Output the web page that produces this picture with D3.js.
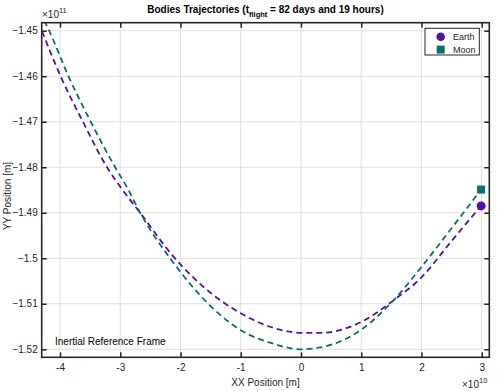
<!DOCTYPE html>
<html>
<head>
<meta charset="utf-8">
<script src="https://cdn.jsdelivr.net/npm/d3@7"></script>
<style>
  body { margin: 0; background: #fff; }
  svg { font-family: 'Liberation Sans', Arial, sans-serif; }
</style>
</head>
<body>
<svg id="chart" width="498" height="391"></svg>
<script>
/* global d3 */

// x in units of 1e10 m, y in units of 1e11 m
var earthX = [-4.30, -3.99, -3.62, -3.22, -3.00, -2.67, -2.12, -1.50, -1.00, -0.50, 0.04, 0.32, 1.00, 1.54, 2.00, 2.50, 2.99]
var earthY = [-1.4501, -1.4600, -1.4700, -1.4800, -1.4843, -1.4900, -1.4996, -1.5076, -1.5121, -1.5151, -1.5164, -1.5164, -1.5140, -1.5092, -1.5042, -1.4962, -1.4885]
var moonX = [-4.26, -4.18, -3.86, -3.49, -3.085, -2.88, -2.67, -2.15, -1.50, -1.00, -0.50, 0.00, 0.32, 1.00, 1.54, 2.00, 2.50, 2.99]
var moonY = [-1.4478, -1.4500, -1.4600, -1.4700, -1.4800, -1.4846, -1.4900, -1.5004, -1.5105, -1.5158, -1.5186, -1.5200, -1.5196, -1.5157, -1.5092, -1.5019, -1.4934, -1.4849]
var xTicks = [-4, -3, -2, -1, 0, 1, 2, 3]
var yTicks = [-1.45, -1.46, -1.47, -1.48, -1.49, -1.5, -1.51, -1.52]
var seriesNames = ['Earth', 'Moon']
var seriesColors = ['#5310a6', '#0d6e6e']

var svg = d3.select('#chart')
var box = {left: 41.7, right: 489.3, top: 22.7, bottom: 357.3}
var axisColor = '#262626'
var gridColor = '#dfdfdf'

var mapX = d3.scaleLinear().domain([-4.304, 3.126]).range([box.left, box.right])
var mapY = d3.scaleLinear().domain([-1.44824, -1.52176]).range([box.top, box.bottom])

svg.append('defs').append('clipPath').attr('id', 'clip')
    .append('rect')
    .attr('x', box.left).attr('y', box.top)
    .attr('width', box.right - box.left).attr('height', box.bottom - box.top)

/*
    --------------------------------------
    Grid
*/
var grid = svg.append('g').attr('class', 'grid')
grid.selectAll('line.gx').data(xTicks).enter().append('line')
    .attr('x1', d => mapX(d)).attr('x2', d => mapX(d))
    .attr('y1', box.top).attr('y2', box.bottom)
    .attr('stroke', gridColor).attr('stroke-width', 1)
grid.selectAll('line.gy').data(yTicks).enter().append('line')
    .attr('y1', d => mapY(d)).attr('y2', d => mapY(d))
    .attr('x1', box.left).attr('x2', box.right)
    .attr('stroke', gridColor).attr('stroke-width', 1)

/*
    --------------------------------------
    Trajectories
*/
var series = [
  {name: seriesNames[0], color: seriesColors[0], pts: earthX.map((x, i) => [x, earthY[i]])},
  {name: seriesNames[1], color: seriesColors[1], pts: moonX.map((x, i) => [x, moonY[i]])}
]

var line = d3.line()
    .x(d => mapX(d[0]))
    .y(d => mapY(d[1]))
    .curve(d3.curveMonotoneX)

svg.append('g').attr('clip-path', 'url(#clip)')
    .selectAll('path').data(series).enter().append('path')
    .attr('d', d => line(d.pts))
    .attr('fill', 'none')
    .attr('stroke', d => d.color)
    .attr('stroke-width', 1.8)
    .attr('stroke-dasharray', '6,4')

// end markers
var last = s => s.pts[s.pts.length - 1]
svg.append('circle')
    .attr('cx', mapX(last(series[0])[0])).attr('cy', mapY(last(series[0])[1]))
    .attr('r', 4.5).attr('fill', seriesColors[0])
svg.append('rect')
    .attr('x', mapX(last(series[1])[0]) - 4).attr('y', mapY(last(series[1])[1]) - 4)
    .attr('width', 8).attr('height', 8).attr('fill', seriesColors[1])

/*
    --------------------------------------
    Axes
*/
var fmtY = d => d3.format('.2f')(d).replace(/0$/, '')
var fmtX = d => String(d)

svg.append('g').attr('transform', `translate(0,${box.bottom})`)
    .call(d3.axisBottom(mapX).tickValues(xTicks).tickFormat(fmtX).tickSize(-5).tickPadding(7))
svg.append('g').attr('transform', `translate(0,${box.top})`)
    .call(d3.axisTop(mapX).tickValues(xTicks).tickFormat('').tickSize(-5))
svg.append('g').attr('transform', `translate(${box.left},0)`)
    .call(d3.axisLeft(mapY).tickValues(yTicks).tickFormat(fmtY).tickSize(-5).tickPadding(4))
svg.append('g').attr('transform', `translate(${box.right},0)`)
    .call(d3.axisRight(mapY).tickValues(yTicks).tickFormat('').tickSize(-5))

svg.selectAll('.domain').remove()
svg.selectAll('.tick line').attr('stroke', axisColor).attr('stroke-width', 1.5)
svg.selectAll('.tick text').attr('fill', axisColor).style('font-size', '10px')

svg.append('rect')
    .attr('x', box.left).attr('y', box.top)
    .attr('width', box.right - box.left).attr('height', box.bottom - box.top)
    .attr('fill', 'none').attr('stroke', axisColor).attr('stroke-width', 1.6)

/*
    --------------------------------------
    Labels
*/
var title = svg.append('text')
    .attr('x', 265.5).attr('y', 13)
    .attr('text-anchor', 'middle')
    .style('font-size', '10px').style('font-weight', 'bold')
    .attr('fill', '#000')
title.append('tspan').text('Bodies Trajectories (t')
title.append('tspan').attr('dy', 4).style('font-size', '7.5px').text('flight')
title.append('tspan').attr('dy', -4).text(' = 82 days and 19 hours)')

var expY = svg.append('text').attr('x', 42).attr('y', 18)
    .style('font-size', '10px').attr('fill', axisColor)
expY.append('tspan').text('\u00d710')
expY.append('tspan').attr('dy', -5).style('font-size', '7.5px').text('11')

var expX = svg.append('text').attr('x', 462).attr('y', 388)
    .style('font-size', '10px').attr('fill', axisColor)
expX.append('tspan').text('\u00d710')
expX.append('tspan').attr('dy', -5).style('font-size', '7.5px').text('10')

svg.append('text')
    .attr('x', 265.5).attr('y', 386)
    .attr('text-anchor', 'middle')
    .style('font-size', '10px').attr('fill', axisColor)
    .text('XX Position [m]')

svg.append('text')
    .attr('transform', 'translate(11,196) rotate(-90)')
    .attr('text-anchor', 'middle')
    .style('font-size', '10px').attr('fill', axisColor)
    .text('YY Position [m]')

svg.append('text')
    .attr('x', 55).attr('y', 345)
    .style('font-size', '10px').attr('fill', '#000')
    .text('Inertial Reference Frame')

/*
    --------------------------------------
    Legend
*/
var legend = svg.append('g').attr('class', 'legend')
legend.append('rect')
    .attr('x', 425).attr('y', 28.3).attr('width', 54.3).attr('height', 26.7)
    .attr('fill', '#fff').attr('stroke', axisColor).attr('stroke-width', 1)

var rows = legend.selectAll('g.row').data(seriesNames).enter().append('g')
    .attr('transform', (d, i) => `translate(0, ${36.8 + i * 12.8})`)
rows.each(function (d, i) {
  var g = d3.select(this)
  if (i === 0) {
    g.append('circle').attr('cx', 440.7).attr('cy', 0).attr('r', 4.3).attr('fill', seriesColors[i])
  } else {
    g.append('rect').attr('x', 436.7).attr('y', -4).attr('width', 8).attr('height', 8).attr('fill', seriesColors[i])
  }
  g.append('text').attr('x', 453).attr('y', 3.3)
      .style('font-size', '9px').attr('fill', axisColor).text(d)
})
</script>
</body>
</html>
